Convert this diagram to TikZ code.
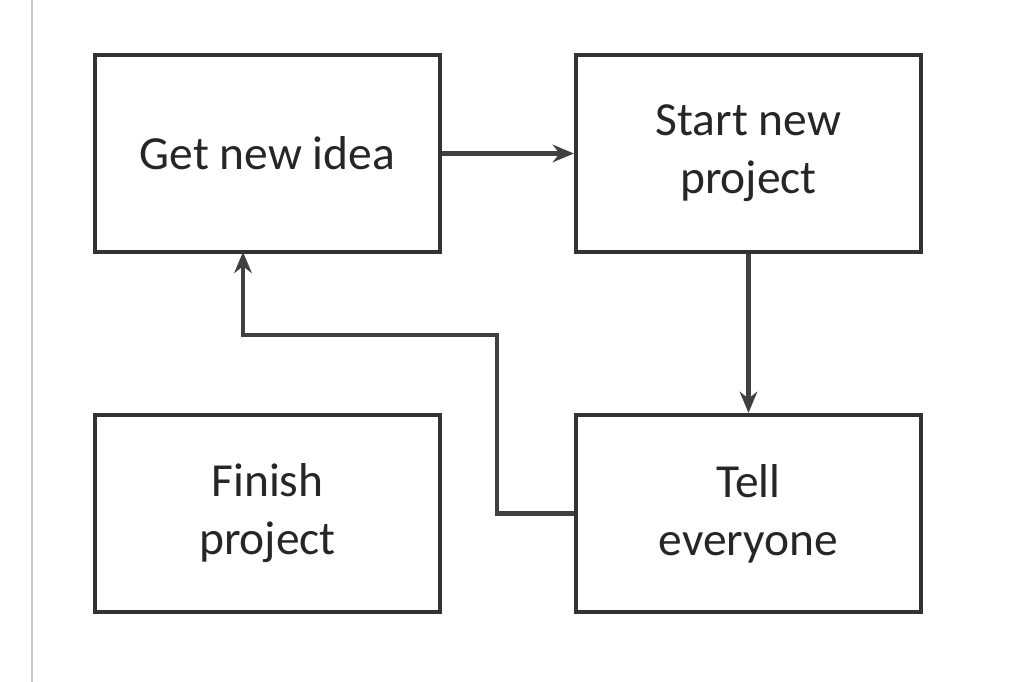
\documentclass[tikz,border=0pt]{standalone}
\usepackage{fontspec}
\setmainfont{Carlito}
\usetikzlibrary{arrows.meta}
\begin{document}
\begin{tikzpicture}[x=0.01cm,y=-0.01cm,
  box/.style={draw=black!80,line width=1.2pt,minimum width=3.45cm,minimum height=1.97cm,align=center,font=\fontsize{13.5}{16.5}\selectfont,text=black!85},
  conn/.style={draw=black!75,line width=1.4pt,-{Stealth[length=6pt,width=5pt]}}]
\useasboundingbox (0,0) rectangle (1026,682);
\fill[white] (0,0) rectangle (1026,682);
\draw[black!20,line width=0.8pt] (32,0) -- (32,682);
\node[box] (idea) at (267.5,153.5) {Get new idea};
\node[box] (start) at (748.5,153.5) {Start new\\project};
\node[box] (finish) at (267.5,513.5) {Finish\\project};
\node[box] (tell) at (748.5,513.5) {Tell\\everyone};
\draw[conn] (idea.east) -- (start.west);
\draw[conn] (start.south) -- (tell.north);
\draw[conn] (tell.west) -- (497,513.5) -- (497,335) -- (243,335) -- (243,252);
\end{tikzpicture}
\end{document}
